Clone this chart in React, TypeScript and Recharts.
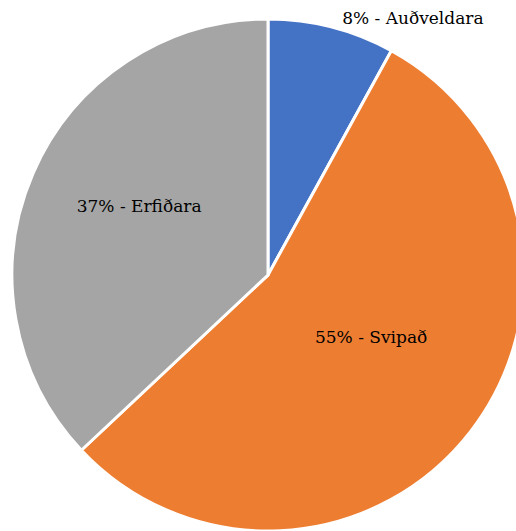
import * as React from "react";
import { PieChart, Pie, Cell } from "recharts";

const categories = ["Auðveldara", "Svipað", "Erfiðara"];
const percents = [8, 55, 37];
const colors = ["#4472C4", "#ED7D31", "#A5A5A5"];

// where each label sits: fraction of the radius and angle (deg, clockwise from top)
const labelSpots = [
  { r: 1.153, a: 29.4 },
  { r: 0.47, a: 121 },
  { r: 0.57, a: 298 },
];

const data = categories.map((name, i) => ({ name, value: percents[i] }));

const FONT = "'DejaVu Serif', 'Liberation Serif', serif";

function renderLabel(props: any) {
  const { cx, cy, outerRadius, index } = props;
  const spot = labelSpots[index];
  const rad = (spot.a * Math.PI) / 180;
  const x = cx + Math.sin(rad) * outerRadius * spot.r;
  const y = cy - Math.cos(rad) * outerRadius * spot.r;
  return (
    <text
      x={x}
      y={y}
      textAnchor="middle"
      dominantBaseline="central"
      fontFamily={FONT}
      fontSize={17}
      fill="#000"
    >
      {`${percents[index]}% - ${categories[index]}`}
    </text>
  );
}

export default function App() {
  return (
    <div style={{ position: "fixed", left: 0, top: 0, width: 516, height: 531, overflow: "hidden", background: "#fff" }}>
      <PieChart width={516} height={531} margin={{ top: 0, right: 0, bottom: 0, left: 0 }}>
        <Pie
          data={data}
          dataKey="value"
          nameKey="name"
          cx={268}
          cy={275}
          outerRadius={256}
          startAngle={90}
          endAngle={-270}
          stroke="#fff"
          strokeWidth={3}
          label={renderLabel}
          labelLine={false}
          isAnimationActive={false}
        >
          {data.map((d, i) => (
            <Cell key={d.name} fill={colors[i]} />
          ))}
        </Pie>
      </PieChart>
    </div>
  );
}
